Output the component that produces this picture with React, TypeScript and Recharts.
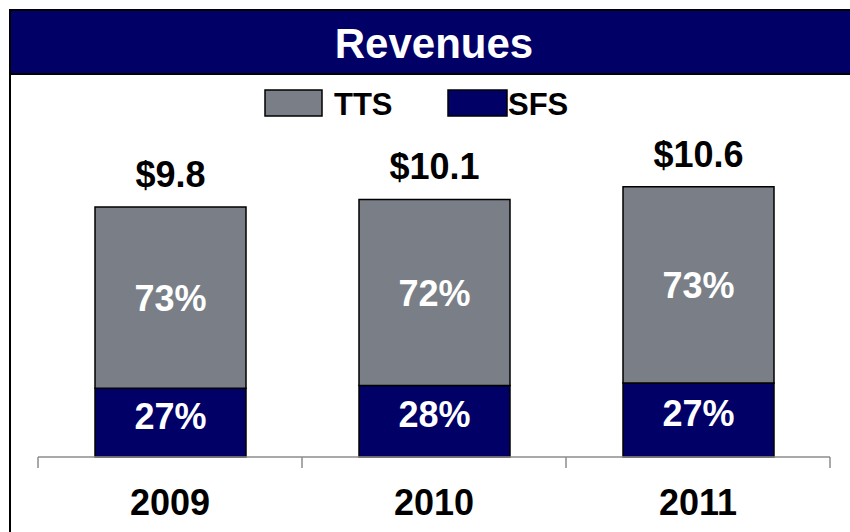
import React from 'react';
import { BarChart, Bar, XAxis, YAxis, LabelList } from 'recharts';

const years = ['2009', '2010', '2011'];
const sfsValues = [2.7, 2.8, 2.9];
const ttsValues = [7.1, 7.3, 7.7];
const sfsShares = ['27%', '28%', '27%'];
const ttsShares = ['73%', '72%', '73%'];
const seriesNames = ['TTS', 'SFS'];
const TITLE = 'Revenues';

const NAVY = '#000066';
const GRAY = '#7a7f87';
const AXIS = '#8c8c8c';
const FONT = '"Liberation Sans", Arial, Helvetica, sans-serif';

const CHART_W = 850;
const CHART_H = 532;
const MARGIN = { top: 151, right: 20, left: 38, bottom: 0 };
const BAND = (CHART_W - MARGIN.left - MARGIN.right) / years.length;

const data = years.map((year, i) => ({
  year,
  sfs: sfsValues[i],
  tts: ttsValues[i],
  total: (sfsValues[i] + ttsValues[i]).toFixed(1),
  sfsShare: sfsShares[i],
  ttsShare: ttsShares[i],
}));

const seriesColors: Record<string, string> = { TTS: GRAY, SFS: NAVY };

const InnerLabel = (shift: number) => (props: any) => {
  const { x, y, width, height, value } = props;
  return (
    <text
      x={Number(x) + Number(width) / 2}
      y={Number(y) + Number(height) / 2 + shift}
      textAnchor="middle"
      fill="#ffffff"
      fontSize={36}
      fontWeight="bold"
      fontFamily={FONT}
    >
      {value}
    </text>
  );
};

const TopLabel = (props: any) => {
  const { x, y, width, value } = props;
  return (
    <text
      x={Number(x) + Number(width) / 2}
      y={Number(y) - 20}
      textAnchor="middle"
      fill="#000000"
      fontSize={36}
      fontWeight="bold"
      fontFamily={FONT}
    >
      {'$' + value}
    </text>
  );
};

// Year label at the category centre, tick marks at the category boundaries.
const YearTick = (props: any) => {
  const { x, y, payload, index } = props;
  const left = Number(x) - BAND / 2;
  const right = Number(x) + BAND / 2;
  return (
    <g>
      <line x1={left} x2={left} y1={y} y2={Number(y) + 11} stroke={AXIS} strokeWidth={1.5} />
      {index === years.length - 1 && (
        <line x1={right} x2={right} y1={y} y2={Number(y) + 11} stroke={AXIS} strokeWidth={1.5} />
      )}
      <text
        x={x}
        y={y}
        dy={58}
        textAnchor="middle"
        fill="#000000"
        fontSize={36}
        fontWeight="bold"
        fontFamily={FONT}
      >
        {payload.value}
      </text>
    </g>
  );
};

export default function App() {
  return (
    <div
      style={{
        position: 'absolute',
        left: 0,
        top: 0,
        width: CHART_W,
        height: CHART_H,
        overflow: 'hidden',
        background: '#ffffff',
        fontFamily: FONT,
      }}
    >
      <svg width={CHART_W} height={CHART_H} style={{ position: 'absolute', left: 0, top: 0 }}>
        <rect x={10} y={10} width={900} height={600} fill="none" stroke="#000" strokeWidth={2} />
        <rect x={11} y={11} width={850} height={62} fill={NAVY} />
        <line x1={10} x2={860} y1={74} y2={74} stroke="#000" strokeWidth={2} />
        <text x={434} y={58} textAnchor="middle" fill="#fff" fontSize={42} fontWeight="bold" fontFamily={FONT}>
          {TITLE}
        </text>
        {seriesNames.map((name, i) => {
          const bx = i === 0 ? 265 : 448;
          const tx = i === 0 ? 334 : 508;
          return (
            <g key={name}>
              <rect x={bx} y={90} width={i === 0 ? 57 : 59} height={26} fill={seriesColors[name]} stroke="#000" strokeWidth={1.5} />
              <text x={tx} y={115} fill="#000" fontSize={31} fontWeight="bold" fontFamily={FONT}>
                {name}
              </text>
            </g>
          );
        })}
      </svg>
      <div style={{ position: 'absolute', left: 0, top: 0 }}>
        <BarChart width={CHART_W} height={CHART_H} data={data} margin={MARGIN}>
          <XAxis
            dataKey="year"
            type="category"
            height={75}
            interval={0}
            tickSize={0}
            tickMargin={0}
            tickLine={false}
            tick={<YearTick />}
            axisLine={{ stroke: AXIS, strokeWidth: 1.5 }}
          />
          <YAxis hide domain={[0, 12]} />
          <Bar
            dataKey="sfs"
            stackId="a"
            fill={NAVY}
            stroke="#000"
            strokeWidth={1.5}
            barSize={151}
            isAnimationActive={false}
          >
            <LabelList dataKey="sfsShare" content={InnerLabel(6)} />
          </Bar>
          <Bar
            dataKey="tts"
            stackId="a"
            fill={GRAY}
            stroke="#000"
            strokeWidth={1.5}
            barSize={151}
            isAnimationActive={false}
          >
            <LabelList dataKey="ttsShare" content={InnerLabel(13)} />
            <LabelList dataKey="total" content={TopLabel} />
          </Bar>
        </BarChart>
      </div>
    </div>
  );
}
